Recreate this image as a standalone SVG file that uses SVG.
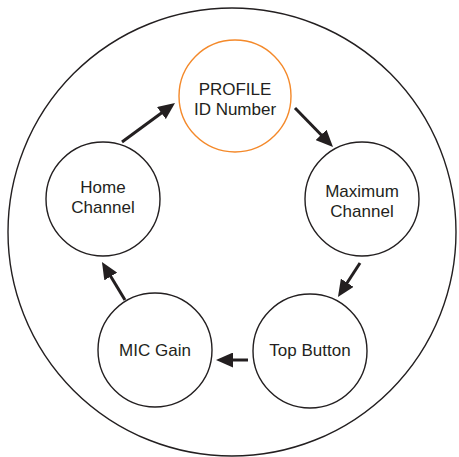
<svg xmlns="http://www.w3.org/2000/svg" width="459" height="457" viewBox="0 0 459 457">
<style>
.node{fill:#fff;stroke:#231f20;stroke-width:1.4}
.hl{stroke:#f4892a}
.lbl{font-family:"Liberation Sans",Arial,sans-serif;font-size:17px;fill:#231f20;text-anchor:middle}
.edge{stroke:#231f20;stroke-width:3;fill:none;marker-end:url(#ah)}
</style>
<defs>
<marker id="ah" markerUnits="userSpaceOnUse" viewBox="0 0 17 15" markerWidth="17" markerHeight="15" refX="9" refY="7.5" orient="auto">
<path d="M0,0 L17,7.5 L0,15 Z" fill="#231f20"/>
</marker>
</defs>
<g id="outer"><circle cx="232" cy="232" r="224" fill="none" stroke="#231f20" stroke-width="1.4"/></g>
<g id="profile"><circle class="node hl" cx="235" cy="96" r="56"/><text class="lbl" x="235" y="95">PROFILE</text><text class="lbl" x="235" y="115">ID Number</text></g>
<g id="maximum"><circle class="node" cx="362" cy="199" r="57"/><text class="lbl" x="362" y="197">Maximum</text><text class="lbl" x="362" y="217">Channel</text></g>
<g id="top"><circle class="node" cx="310" cy="351" r="57"/><text class="lbl" x="310" y="356">Top Button</text></g>
<g id="mic"><circle class="node" cx="155" cy="350" r="57"/><text class="lbl" x="155" y="356">MIC Gain</text></g>
<g id="home"><circle class="node" cx="103" cy="199" r="57"/><text class="lbl" x="103" y="193">Home</text><text class="lbl" x="103" y="213">Channel</text></g>
<g id="connectors">
<line class="edge" x1="122" y1="142" x2="168.6" y2="107.7"/>
<line class="edge" x1="295" y1="108" x2="327.4" y2="141.3"/>
<line class="edge" x1="360" y1="263" x2="342.3" y2="290.3"/>
<line class="edge" x1="248" y1="360" x2="224" y2="360"/>
<line class="edge" x1="125" y1="300" x2="106.1" y2="268.8"/>
</g>
</svg>
